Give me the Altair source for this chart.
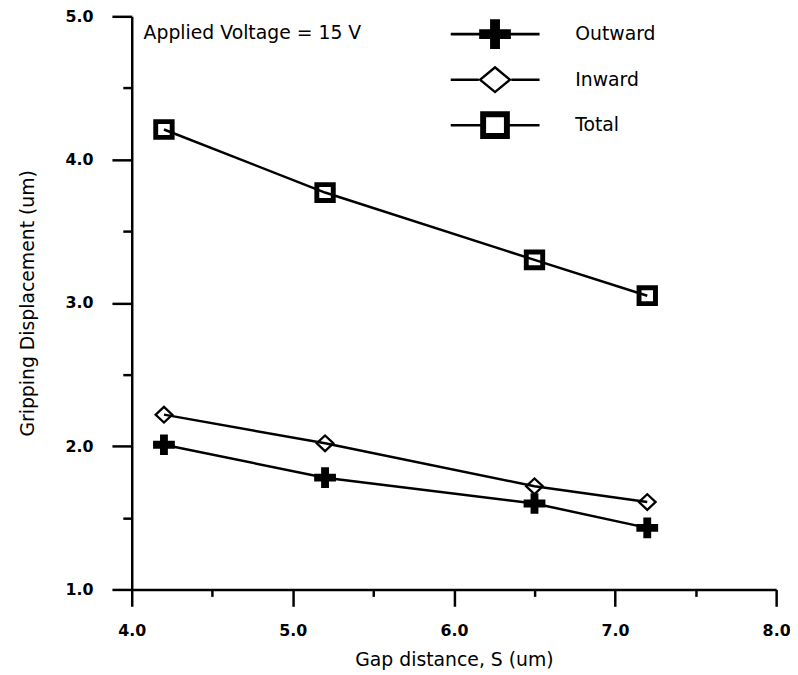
import altair as alt
import pandas as pd

# ---- data ----
gap = [4.2, 5.2, 6.5, 7.2]
outward = [2.01, 1.78, 1.60, 1.43]
inward = [2.22, 2.02, 1.72, 1.61]
total = [4.21, 3.77, 3.30, 3.05]
series_names = ["Outward", "Inward", "Total"]
x_ticks = [4.0, 5.0, 6.0, 7.0, 8.0]
x_minor = [4.5, 5.5, 6.5, 7.5]
y_ticks = [1.0, 2.0, 3.0, 4.0, 5.0]
y_minor = [1.5, 2.5, 3.5, 4.5]
annotation = ["Applied Voltage = 15 V"]
x_title = "Gap distance, S (um)"
y_title = "Gripping Displacement (um)"

rows = []
for name, vals in zip(series_names, [outward, inward, total]):
    for g, v in zip(gap, vals):
        rows.append({"gap": g, "disp": v, "series": name})
df = pd.DataFrame(rows)
ann_df = pd.DataFrame({"t": annotation})

FONT = "DejaVu Sans"


# ---- symbol path helpers (units: -1..1, scaled by sqrt(size)/2) ----
def n(v):
    return f"{v:.4f}"


def rect_cw(x0, y0, x1, y1):
    return f"M{n(x0)},{n(y0)}H{n(x1)}V{n(y1)}H{n(x0)}Z"


def rect_ccw(x0, y0, x1, y1):
    return f"M{n(x0)},{n(y0)}V{n(y1)}H{n(x1)}V{n(y0)}Z"


def cross(a, b, c):
    return (f"M{n(-a)},{n(-c)}H{n(-c)}V{n(-b)}H{n(c)}V{n(-c)}H{n(a)}V{n(c)}"
            f"H{n(c)}V{n(b)}H{n(-c)}V{n(c)}H{n(-a)}Z")


def diamond_ring(w, h, d):
    s = 1 - d * (w * w + h * h) ** 0.5 / (w * h)
    wi, hi = w * s, h * s
    return (f"M{n(-w)},0L0,{n(-h)}L{n(w)},0L0,{n(h)}Z"
            f"M{n(-wi)},0L0,{n(hi)}L{n(wi)},0L0,{n(-hi)}Z")


def square_ring(a, b, t):
    return rect_cw(-a, -b, a, b) + rect_ccw(-a + t, -b + t, a - t, b - t)


# data markers: 1 unit = 11 px
marker_paths = [
    cross(1.0, 0.95, 0.36),
    diamond_ring(0.92, 0.86, 0.21),
    square_ring(0.98, 0.95, 0.45),
]

# legend symbols: 1 unit = 45 px (line + marker)
U = 45.0
t = 1.3 / U


def with_lines(marker, half):
    return rect_cw(-1, -t, -half + 0.01, t) + rect_cw(half - 0.01, -t, 1, t) + marker


legend_paths = [
    with_lines(cross(16 / U, 15 / U, 5 / U), 16 / U),
    with_lines(diamond_ring(17 / U, 14 / U, 2.4 / U), 17 / U),
    with_lines(square_ring(15 / U, 14 / U, 6 / U), 15 / U),
]

x_scale = alt.Scale(domain=[4, 8], nice=False, zero=False)
y_scale = alt.Scale(domain=[1, 5], nice=False, zero=False)

common_axis = dict(
    tickColor="black", tickWidth=2.5, domainColor="black", domainWidth=2.5,
    labelFont=FONT, labelFontSize=16, labelFontWeight="bold", labelColor="black",
    labelFlush=False, labelOverlap=False, labelBound=False, grid=False,
    titleFont=FONT, titleFontSize=19, titleFontWeight="normal", titleColor="black",
)

x_major = alt.Axis(orient="bottom", values=x_ticks, format=".1f", tickSize=17,
                   labelPadding=17, title=x_title, titlePadding=12, **common_axis)
y_major = alt.Axis(orient="left", values=y_ticks, format=".1f", tickSize=20,
                   labelPadding=19, title=y_title, titlePadding=28, **common_axis)
x_min_axis = alt.Axis(orient="bottom", values=x_minor, tickSize=7, tickWidth=2.5,
                      tickColor="black", labels=False, domain=False, grid=False, title=None)
y_min_axis = alt.Axis(orient="left", values=y_minor, tickSize=9, tickWidth=2.5,
                      tickColor="black", labels=False, domain=False, grid=False, title=None)

lines = alt.Chart(df).mark_line(color="black", strokeWidth=2.5).encode(
    x=alt.X("gap:Q", scale=x_scale, axis=x_major),
    y=alt.Y("disp:Q", scale=y_scale, axis=y_major),
    detail="series:N",
)

points = alt.Chart(df).mark_point(filled=True, color="black", opacity=1,
                                  strokeWidth=0, size=484).encode(
    x=alt.X("gap:Q", scale=x_scale, axis=x_min_axis),
    y=alt.Y("disp:Q", scale=y_scale, axis=y_min_axis),
    shape=alt.Shape("series:N", scale=alt.Scale(domain=series_names, range=marker_paths),
                    legend=None),
)

legend_layer = alt.Chart(df).transform_filter("false").mark_point(
    filled=True, color="black", opacity=1, strokeWidth=0, size=8100).encode(
    shape=alt.Shape("series:N",
                    scale=alt.Scale(domain=series_names, range=legend_paths),
                    legend=alt.Legend(title=None, orient="none", legendX=322, legendY=-5,
                                      symbolSize=8100, symbolFillColor="black",
                                      symbolStrokeColor="transparent", symbolStrokeWidth=0,
                                      symbolOpacity=1, labelFont=FONT, labelFontSize=19,
                                      labelColor="black", labelOffset=36, clipHeight=46,
                                      rowPadding=0, padding=0)),
)

text = alt.Chart(ann_df).mark_text(align="left", baseline="middle", font=FONT,
                                   fontSize=19, color="black").encode(
    text="t:N", x=alt.value(12), y=alt.value(17))

chart = alt.layer(lines, points, legend_layer, text).resolve_scale(
    shape="independent").resolve_axis(x="independent", y="independent").properties(
    width=651, height=579,
    autosize=alt.AutoSizeParams(type="none"),
    padding={"left": 125, "top": 5, "right": 14, "bottom": 80},
).configure_view(stroke=None)

chart.save("out.html", embed_options={"renderer": "svg", "actions": False})
